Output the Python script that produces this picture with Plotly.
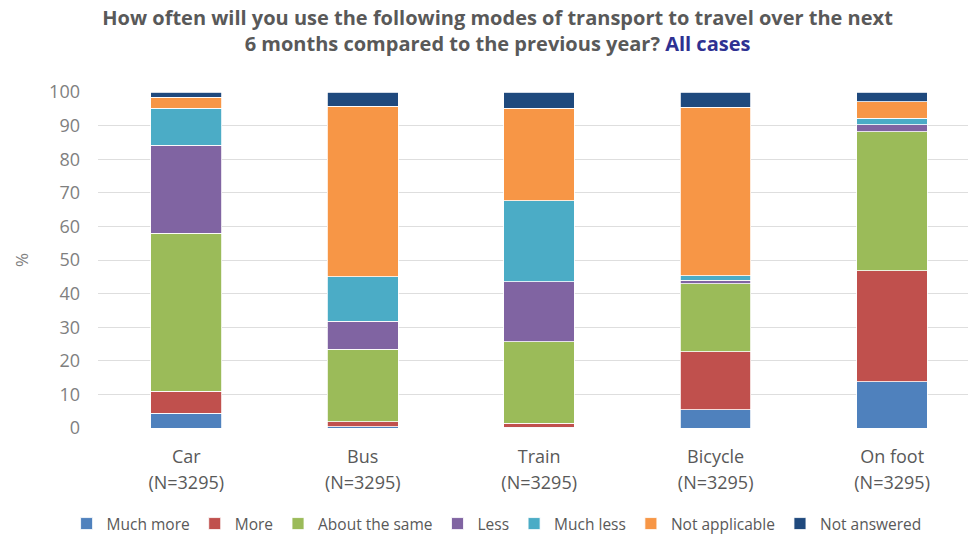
import plotly.graph_objects as go

categories = ["Car", "Bus", "Train", "Bicycle", "On foot"]
sample_sizes = ["(N=3295)", "(N=3295)", "(N=3295)", "(N=3295)", "(N=3295)"]
much_more = [4.4, 0.3, 0.2, 5.4, 13.8]
more = [6.6, 1.5, 1.2, 17.3, 33.0]
about_same = [47.0, 21.7, 24.2, 20.2, 41.4]
less = [26.2, 8.3, 17.9, 1.1, 2.0]
much_less = [11.0, 13.2, 24.1, 1.3, 2.0]
not_applicable = [3.3, 50.8, 27.6, 50.1, 4.9]
not_answered = [1.5, 4.2, 4.8, 4.6, 2.9]

series = [
    ("Much more", much_more, "#4f81bd"),
    ("More", more, "#c0504d"),
    ("About the same", about_same, "#9bbb59"),
    ("Less", less, "#8064a2"),
    ("Much less", much_less, "#4bacc6"),
    ("Not applicable", not_applicable, "#f79646"),
    ("Not answered", not_answered, "#1f497d"),
]

font_family = "Open Sans, Noto Sans, sans-serif"
xpos = list(range(len(categories)))

fig = go.Figure()
for name, vals, color in series:
    fig.add_trace(go.Bar(
        name=name, x=xpos, y=vals,
        marker=dict(color=color, line=dict(color="white", width=0.8)),
    ))

# invisible trace on xaxis2 so the second row of category labels renders
fig.add_trace(go.Bar(x=xpos, y=[0] * len(xpos), xaxis="x2", showlegend=False,
                     hoverinfo="skip", marker=dict(opacity=0)))

fig.update_layout(
    barmode="stack",
    bargap=0.6,
    width=968, height=541,
    paper_bgcolor="white", plot_bgcolor="white",
    margin=dict(l=98, r=0, t=92, b=113, autoexpand=False),
    font=dict(family=font_family, color="#595959"),
    title=dict(
        text="<b>How often will you use the following modes of transport to travel over the next<br>6 months compared to the previous year? <span style='color:#2e3192'>All cases</span></b>",
        x=0.514, xanchor="center", y=0.953, yanchor="top",
        font=dict(size=20, color="#595959", family=font_family),
    ),
    xaxis=dict(
        tickmode="array", tickvals=xpos, ticktext=categories,
        range=[-0.5, 4.43],
        tickfont=dict(size=18, color="#595959"),
        ticklabelstandoff=16,
        showgrid=False, zeroline=False, showline=False, ticks="",
    ),
    xaxis2=dict(
        tickmode="array", tickvals=xpos, ticktext=sample_sizes,
        range=[-0.5, 4.43], overlaying="x", anchor="y", side="bottom",
        tickfont=dict(size=18, color="#595959"),
        ticklabelstandoff=42,
        showgrid=False, zeroline=False, showline=False, ticks="",
    ),
    yaxis=dict(
        range=[0, 100], dtick=10,
        tickfont=dict(size=18, color="#7f7f7f"),
        gridcolor="#dedede", gridwidth=1,
        zeroline=False, showline=False, ticks="",
        ticklabelstandoff=17,
        title=dict(text="%", font=dict(size=17, color="#7f7f7f"), standoff=16),
    ),
    legend=dict(
        orientation="h", xref="container", yref="container",
        x=0.513, xanchor="center", y=-0.009, yanchor="bottom",
        font=dict(size=15.5, color="#595959"), traceorder="normal",
        itemwidth=30, tracegroupgap=0,
    ),
)

fig.write_html("out.html", config={"displayModeBar": False},
               post_script="document.body.style.margin='0';document.body.style.overflow='hidden';")
